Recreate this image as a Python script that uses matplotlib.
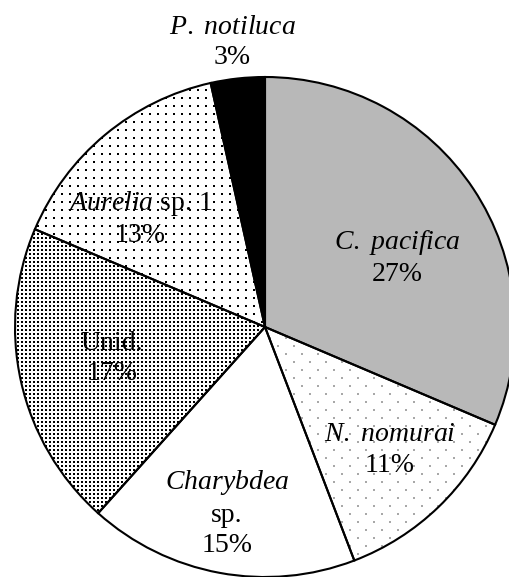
import matplotlib.pyplot as plt
import numpy as np

plt.rcParams['font.family'] = 'Liberation Serif'
plt.rcParams['mathtext.fontset'] = 'custom'
plt.rcParams['mathtext.rm'] = 'Liberation Serif'
plt.rcParams['mathtext.it'] = 'Liberation Serif:italic'

# jellyfish composition, clockwise from 12 o'clock
names = [r'$\mathit{C.}$ $\mathit{pacifica}$', r'$\mathit{N.}$ $\mathit{nomurai}$',
         r'$\mathit{Charybdea}$' + '\nsp.', 'Unid.',
         r'$\mathit{Aurelia}$ sp. 1', r'$\mathit{P.}$ $\mathit{notiluca}$']
percent = [27, 11, 15, 17, 13, 3]
fills = ['#b8b8b8', 'white', 'white', 'white', 'white', 'black']

# label centres in pie units (radius = 1)
label_xy = [(0.528, 0.278), (0.50, -0.492), (-0.152, -0.744),
            (-0.612, -0.126), (-0.50, 0.434), (-0.132, 1.138)]

# dot textures: index -> (x step, y step, stagger, marker size, colour)
dots = {1: (0.064, 0.032, True, 1.6, '#a8a8a8'),
        3: (0.016, 0.016, False, 2.4, 'black'),
        4: (0.032, 0.032, False, 2.0, 'black')}

W, H = 509, 577
cx, cy, R = 265, 327, 250   # pie centre and radius in pixels

fig = plt.figure(figsize=(W / 100, H / 100), dpi=100)
ax = fig.add_axes([0, 0, 1, 1])

wedges, _ = ax.pie(percent, colors=fills, startangle=90, counterclock=False,
                   wedgeprops=dict(linewidth=0))

for i, (sx, sy, stagger, size, col) in dots.items():
    xs = np.arange(-1.1, 1.1, sx)
    ys = np.arange(-1.1, 1.1, sy)
    gx, gy = np.meshgrid(xs, ys)
    if stagger:
        gx[1::2] += sx / 2
    pts = ax.scatter(gx.ravel(), gy.ravel(), s=size, marker='s', c=col,
                     linewidths=0, zorder=2)
    pts.set_clip_path(wedges[i])

# black outlines on top of the textures
outline, _ = ax.pie(percent, startangle=90, counterclock=False,
                    wedgeprops=dict(fill=False, edgecolor='black', linewidth=1.5))
for w in outline:
    w.set_zorder(3)

for name, p, (x, y) in zip(names, percent, label_xy):
    ax.text(x, y, name + '\n' + f'{p}%', ha='center', va='center',
            fontsize=20, linespacing=1.3, zorder=4)

ax.set_xlim(-cx / R, (W - cx) / R)
ax.set_ylim((cy - H) / R, cy / R)
ax.set_aspect('auto')
ax.axis('off')

fig.savefig('out.png', dpi=100)
